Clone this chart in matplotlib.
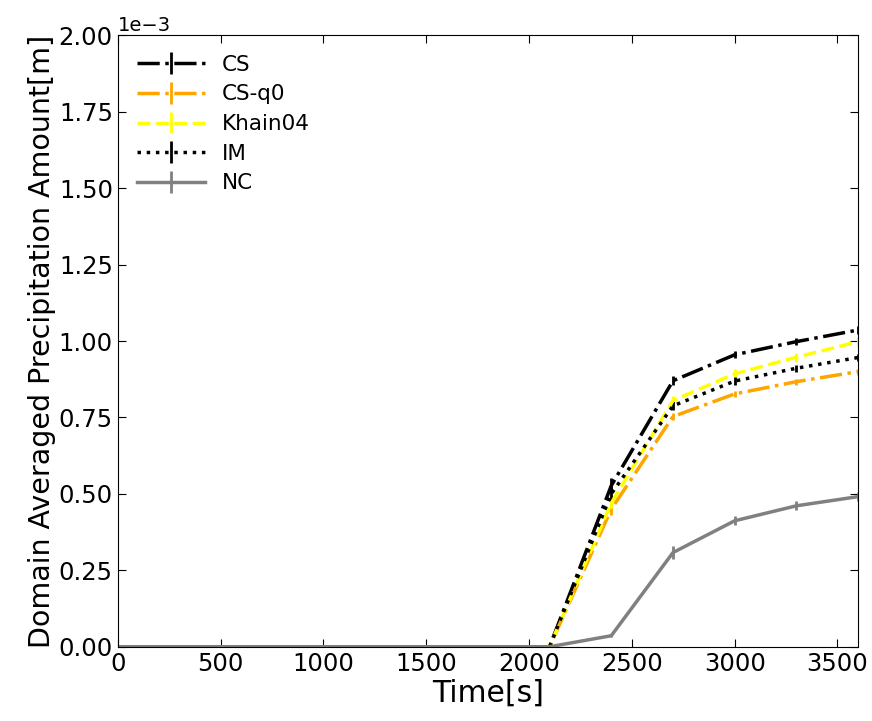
import matplotlib
matplotlib.use("Agg")
import matplotlib.pyplot as plt

# time axis, every 300 s
time = [0, 300, 600, 900, 1200, 1500, 1800, 2100, 2400, 2700, 3000, 3300, 3600]

# domain averaged precipitation amount [m]
cs      = [0, 0, 0, 0, 0, 0, 0, 0, 0.527e-3, 0.870e-3, 0.955e-3, 0.998e-3, 1.036e-3]
cs_q0   = [0, 0, 0, 0, 0, 0, 0, 0, 0.450e-3, 0.753e-3, 0.827e-3, 0.867e-3, 0.900e-3]
khain04 = [0, 0, 0, 0, 0, 0, 0, 0, 0.470e-3, 0.805e-3, 0.893e-3, 0.947e-3, 0.998e-3]
im      = [0, 0, 0, 0, 0, 0, 0, 0, 0.500e-3, 0.788e-3, 0.869e-3, 0.911e-3, 0.946e-3]
nc      = [0, 0, 0, 0, 0, 0, 0, 0, 0.036e-3, 0.308e-3, 0.412e-3, 0.461e-3, 0.491e-3]

# spread (error bars)
cs_err      = [0, 0, 0, 0, 0, 0, 0, 0, 0.025e-3, 0.015e-3, 0.012e-3, 0.012e-3, 0.012e-3]
cs_q0_err   = [0, 0, 0, 0, 0, 0, 0, 0, 0.020e-3, 0.012e-3, 0.010e-3, 0.010e-3, 0.010e-3]
khain04_err = [0, 0, 0, 0, 0, 0, 0, 0, 0.022e-3, 0.015e-3, 0.015e-3, 0.015e-3, 0.015e-3]
im_err      = [0, 0, 0, 0, 0, 0, 0, 0, 0.022e-3, 0.015e-3, 0.012e-3, 0.012e-3, 0.012e-3]
nc_err      = [0, 0, 0, 0, 0, 0, 0, 0, 0.005e-3, 0.020e-3, 0.015e-3, 0.015e-3, 0.015e-3]

series = [
    ("CS", cs, cs_err, "black", "-."),
    ("CS-q0", cs_q0, cs_q0_err, "orange", "-."),
    ("Khain04", khain04, khain04_err, "yellow", "--"),
    ("IM", im, im_err, "black", ":"),
    ("NC", nc, nc_err, "gray", "-"),
]

fig = plt.figure(figsize=(8.72, 7.21), dpi=100)
ax = fig.add_axes([0.135, 0.103, 0.849, 0.848])

for name, y, err, col, ls in series:
    ax.errorbar(time, y, yerr=err, color=col, linestyle=ls, linewidth=2.5,
                elinewidth=2, label=name)

ax.set_xlim(0, 3600)
ax.set_ylim(0, 2.0e-3)
ax.ticklabel_format(axis="y", style="sci", scilimits=(0, 0))
ax.yaxis.get_offset_text().set_fontsize(14)
ax.tick_params(direction="in", top=True, right=True, labelsize=17.5, length=6)
ax.set_xlabel("Time[s]", fontsize=21.5, labelpad=2)
ax.set_ylabel("Domain Averaged Precipitation Amount[m]", fontsize=20.5, labelpad=2)
ax.legend(loc="upper left", frameon=False, fontsize=15.5, handlelength=3.15,
          labelspacing=0.45)

fig.savefig("out.png", dpi=100)
